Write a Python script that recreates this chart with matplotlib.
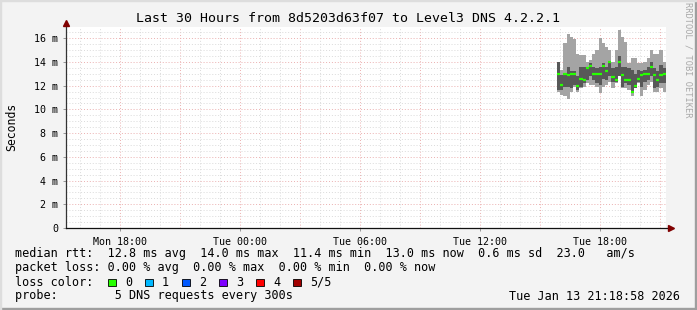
import matplotlib

matplotlib.use("Agg")
import matplotlib.pyplot as plt
import matplotlib.dates as mdates
from matplotlib.patches import Rectangle
from matplotlib.ticker import FuncFormatter, MultipleLocator
from datetime import datetime, timedelta
import numpy as np

W, H = 697, 310

TITLE = "Last 30 Hours from 8d5203d63f07 to Level3 DNS 4.2.2.1"
WINDOW_START = datetime(2026, 1, 12, 15, 18, 58)
WINDOW_END = datetime(2026, 1, 13, 21, 18, 58)
FIRST_SAMPLE = datetime(2026, 1, 13, 15, 52)
STEP = timedelta(seconds=576)

# smoke per step (ms): max ping, upper inner, lower inner, min ping, median
ping_max = [14.0, 13.3, 15.6, 16.4, 16.1, 15.9, 14.7, 14.6, 14.6, 14.0, 14.2, 14.7,
            15.0, 16.0, 15.6, 15.3, 15.0, 14.0, 15.0, 16.7, 16.1, 15.7, 13.9, 14.3,
            14.3, 13.9, 13.9, 14.0, 14.3, 15.0, 14.7, 14.7, 15.0, 14.0]
ping_q3 = [14.0, 12.9, 13.05, 13.6, 13.2, 13.2, 12.8, 13.6, 13.6, 13.6, 13.9, 13.6,
           13.5, 13.6, 13.9, 13.6, 14.0, 13.5, 13.6, 14.5, 13.6, 13.6, 13.5, 13.3,
           13.0, 13.3, 13.2, 13.3, 13.6, 14.0, 13.5, 13.2, 13.75, 13.5]
ping_q1 = [11.6, 11.6, 11.9, 11.9, 11.8, 12.1, 11.6, 11.9, 12.2, 12.5, 12.8, 12.5,
           12.2, 12.1, 12.6, 12.5, 12.8, 12.3, 12.3, 12.8, 11.9, 12.2, 12.1, 11.4,
           11.8, 12.3, 11.9, 12.3, 12.5, 12.8, 11.8, 11.9, 12.2, 12.2]
ping_min = [11.5, 11.2, 11.1, 10.9, 11.5, 11.9, 11.5, 11.8, 11.9, 12.2, 12.1, 12.1,
            11.9, 11.4, 11.9, 12.1, 12.3, 11.8, 12.2, 12.8, 11.8, 11.8, 11.6, 11.1,
            11.8, 12.2, 11.1, 11.6, 12.1, 12.3, 11.5, 11.5, 11.8, 11.5]
ping_median = [13.0, 12.1, 13.0, 12.9, 13.0, 13.0, 12.0, 12.6, 12.5, 13.5, 13.7, 13.0,
               13.0, 13.0, 13.7, 13.2, 14.0, 12.7, 12.5, 14.0, 12.9, 12.5, 12.5, 11.5,
               12.0, 12.6, 12.9, 13.0, 13.0, 13.6, 12.9, 12.5, 12.9, 13.0]

legend_rtt = "median rtt:  12.8 ms avg  14.0 ms max  11.4 ms min  13.0 ms now  0.6 ms sd  23.0   am/s"
legend_loss = "packet loss: 0.00 % avg  0.00 % max  0.00 % min  0.00 % now"
loss_labels = ["0", "1", "2", "3", "4", "5/5"]
loss_colors = ["#26ff00", "#00b8ff", "#0059ff", "#7e00ff", "#ff0000", "#a10000"]
legend_probe = "probe:        5 DNS requests every 300s"
stamp = "Tue Jan 13 21:18:58 2026"

MONO = "DejaVu Sans Mono"
plt.rcParams["font.family"] = MONO


def fx(px):
    return px / W


def fy(py):
    return 1 - py / H


fig = plt.figure(figsize=(W / 100, H / 100), dpi=100, facecolor="#f3f3f3")
ax = fig.add_axes([fx(66), fy(228), 600 / W, 201 / H])
ax.set_facecolor("white")
for s in ax.spines.values():
    s.set_visible(False)

x0 = mdates.date2num(WINDOW_START)
x1 = mdates.date2num(WINDOW_END)
ax.set_xlim(x0, x1)
ax.set_ylim(0, 16.95)

# grid: minor each hour / 0.5 ms, major each 3 h / 2 ms
MINOR_C, MAJOR_C = "#dadada", "#ebb0b0"
hour = 1 / 24
h = np.ceil(x0 / hour) * hour
while h < x1:
    n = int(round(h / hour)) % 3
    ax.axvline(h, color=MAJOR_C if n == 0 else MINOR_C, lw=0.7, ls=(0, (1, 2)), zorder=0)
    h += hour
for v in np.arange(0.5, 17, 0.5):
    ax.axhline(v, color=MAJOR_C if v % 2 == 0 else MINOR_C, lw=0.7, ls=(0, (1, 2)), zorder=0)

# smoke
t = [FIRST_SAMPLE + i * STEP for i in range(len(ping_median))]
xs = mdates.date2num(t)
w = STEP.total_seconds() / 86400
hi = np.array(ping_max)
lo = np.array(ping_min)
q3 = np.array(ping_q3)
q1 = np.array(ping_q1)
ax.bar(xs, hi - lo, width=w, bottom=lo, align="edge", color="#a4a4a4", lw=0, zorder=2)
ax.bar(xs, q3 - q1, width=w, bottom=q1, align="edge", color="#585858", lw=0, zorder=3)
ax.hlines(ping_median, xs, xs + w, color=loss_colors[0], lw=1.6, zorder=4)

# axes lines and arrows
ax.plot([0, 0], [0, 1 + 5 / 201], transform=ax.transAxes, color="#333333", lw=0.9, clip_on=False, zorder=5)
ax.plot([0, 1 + 4 / 600], [0, 0], transform=ax.transAxes, color="#111111", lw=0.9, clip_on=False, zorder=5)
ax.plot([0], [1 + 4 / 201], transform=ax.transAxes, marker="^", ms=4.5, color="#800000", clip_on=False, zorder=6)
ax.plot([1 + 5 / 600], [0], transform=ax.transAxes, marker=">", ms=4.5, color="#800000", clip_on=False, zorder=6)

ax.xaxis.set_major_locator(mdates.HourLocator(byhour=[0, 6, 12, 18]))
ax.xaxis.set_major_formatter(mdates.DateFormatter("%a %H:%M"))
ax.yaxis.set_major_locator(MultipleLocator(2))
ax.yaxis.set_major_formatter(FuncFormatter(lambda v, p: "0" if v == 0 else f"{v:.0f} m"))
ax.tick_params(axis="both", length=2, width=0.6, color="#888888", labelsize=7.2)
ax.tick_params(axis="x", pad=4.5)
ax.tick_params(axis="y", pad=3.5)

fig.text(fx(348), fy(19), TITLE, ha="center", va="center", fontsize=9.5)
fig.text(fx(12), fy(127), "Seconds", rotation=90, ha="center", va="center", fontsize=8.3)
fig.text(fx(688), fy(60), "RRDTOOL / TOBI OETIKER", rotation=270, ha="center", va="center",
         fontsize=6.2, color="#a8a8a8")

fs = 8.5
fig.text(fx(15), fy(254), legend_rtt, ha="left", va="center", fontsize=fs)
fig.text(fx(15), fy(268), legend_loss, ha="left", va="center", fontsize=fs)
fig.text(fx(15), fy(282), "loss color:", ha="left", va="center", fontsize=fs)
for i, (lab, c) in enumerate(zip(loss_labels, loss_colors)):
    bx = 108 + 37 * i
    fig.patches.append(Rectangle((fx(bx), fy(286)), 8 / W, 7 / H, transform=fig.transFigure,
                                 facecolor=c, edgecolor="black", lw=0.6))
    fig.text(fx(bx + 17), fy(282), lab, ha="left", va="center", fontsize=fs)
fig.text(fx(15), fy(296), legend_probe, ha="left", va="center", fontsize=fs)
fig.text(fx(680), fy(296), stamp, ha="right", va="center", fontsize=fs)

# 3d frame
fig.patches.append(Rectangle((0, 0), 1, 2 / H, transform=fig.transFigure, color="#9e9e9e"))
fig.patches.append(Rectangle((1 - 2 / W, 0), 2 / W, 1, transform=fig.transFigure, color="#9e9e9e"))
fig.patches.append(Rectangle((0, 1 - 1 / H), 1, 1 / H, transform=fig.transFigure, color="#dddddd"))
fig.patches.append(Rectangle((0, 0), 1 / W, 1, transform=fig.transFigure, color="#dddddd"))

fig.savefig("out.png", dpi=100, facecolor=fig.get_facecolor())
